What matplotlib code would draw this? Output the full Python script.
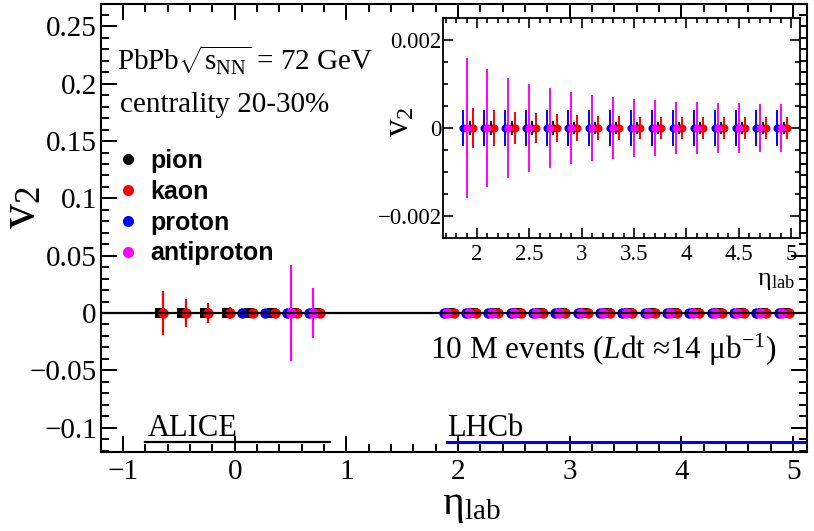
import matplotlib
matplotlib.use("Agg")
import matplotlib.pyplot as plt
from matplotlib.lines import Line2D
from matplotlib.ticker import MultipleLocator, FuncFormatter

plt.rcParams['font.family'] = ['Liberation Serif', 'DejaVu Serif']
plt.rcParams['mathtext.fontset'] = 'custom'
plt.rcParams['mathtext.rm'] = 'Liberation Serif'
plt.rcParams['mathtext.it'] = 'Liberation Serif:italic'
plt.rcParams['mathtext.bf'] = 'Liberation Serif:bold'
plt.rcParams['axes.unicode_minus'] = True

# ---------------- data ----------------
species = ['pion', 'kaon', 'proton', 'antiproton']
species_colors = ['#000000', '#ff0000', '#0000ff', '#ff00ff']

# ALICE acceptance (mid-rapidity)
pion_alice_eta = [-0.7, -0.5, -0.3, -0.1, 0.1, 0.3, 0.5, 0.7]
pion_alice_v2 = [0, 0, 0, 0, 0, 0, 0, 0]
pion_alice_err = [0.002, 0.002, 0.002, 0.002, 0.002, 0.002, 0.002, 0.002]

kaon_alice_eta = [-0.7, -0.5, -0.3, -0.1, 0.1, 0.3, 0.5, 0.7]
kaon_alice_v2 = [0, 0, 0, 0, 0, 0, 0, 0]
kaon_alice_err = [0.019, 0.012, 0.0087, 0.005, 0.003, 0.003, 0.003, 0.003]

proton_alice_eta = [0.1, 0.3, 0.5, 0.7]
proton_alice_v2 = [0, 0, 0, 0]
proton_alice_err = [0.003, 0.003, 0.003, 0.003]

antiproton_alice_eta = [0.5, 0.7]
antiproton_alice_v2 = [0, 0]
antiproton_alice_err = [0.042, 0.022]

# LHCb acceptance (forward)
lhcb_eta = [1.9, 2.1, 2.3, 2.5, 2.7, 2.9, 3.1, 3.3, 3.5, 3.7, 3.9, 4.1, 4.3, 4.5, 4.7, 4.9]
pion_lhcb_v2 = [0, 0, 0, 0, 0, 0, 0, 0, 0, 0, 0, 0, 0, 0, 0, 0]
pion_lhcb_err = [0.00016, 0.00016, 0.00015, 0.00015, 0.00015, 0.00014, 0.00014, 0.00014,
                 0.00014, 0.00013, 0.00013, 0.00013, 0.00013, 0.00013, 0.00013, 0.00013]
kaon_lhcb_v2 = [0, 0, 0, 0, 0, 0, 0, 0, 0, 0, 0, 0, 0, 0, 0, 0]
kaon_lhcb_err = [0.00045, 0.00040, 0.00036, 0.00033, 0.00031, 0.00029, 0.00028, 0.00027,
                 0.00026, 0.00026, 0.00025, 0.00025, 0.00025, 0.00025, 0.00025, 0.00025]
proton_lhcb_v2 = [0, 0, 0, 0, 0, 0, 0, 0, 0, 0, 0, 0, 0, 0, 0, 0]
proton_lhcb_err = [0.0004, 0.0004, 0.0004, 0.0004, 0.0004, 0.0004, 0.0004, 0.0004,
                   0.0004, 0.0004, 0.0004, 0.0004, 0.0004, 0.0004, 0.0004, 0.0004]
antiproton_lhcb_v2 = [0, 0, 0, 0, 0, 0, 0, 0, 0, 0, 0, 0, 0, 0, 0, 0]
antiproton_lhcb_err = [0.0016, 0.00134, 0.00113, 0.0010, 0.0009, 0.00082, 0.00076, 0.0007,
                       0.00066, 0.00063, 0.0006, 0.00059, 0.00057, 0.00056, 0.00055, 0.00055]

# detector acceptance bands
alice_range = [-0.8, 0.85]
lhcb_range = [1.9, 5.1]

# --------------- styling ---------------
# small horizontal displacement of species so points do not sit on top of each other
species_shift = {'pion': 0.03, 'kaon': 0.06, 'proton': -0.03, 'antiproton': 0.0}
draw_order = ['pion', 'proton', 'kaon', 'antiproton']
color_of = dict(zip(species, species_colors))

alice = {
    'pion': (pion_alice_eta, pion_alice_v2, pion_alice_err),
    'kaon': (kaon_alice_eta, kaon_alice_v2, kaon_alice_err),
    'proton': (proton_alice_eta, proton_alice_v2, proton_alice_err),
    'antiproton': (antiproton_alice_eta, antiproton_alice_v2, antiproton_alice_err),
}
lhcb = {
    'pion': (lhcb_eta, pion_lhcb_v2, pion_lhcb_err),
    'kaon': (lhcb_eta, kaon_lhcb_v2, kaon_lhcb_err),
    'proton': (lhcb_eta, proton_lhcb_v2, proton_lhcb_err),
    'antiproton': (lhcb_eta, antiproton_lhcb_v2, antiproton_lhcb_err),
}

W, H = 814, 531
fig = plt.figure(figsize=(W / 100, H / 100), dpi=100)

def px_axes(l, t, r, b):
    return [l / W, 1 - b / H, (r - l) / W, (b - t) / H]

ax = fig.add_axes(px_axes(101, 4, 807, 452))
axin = fig.add_axes(px_axes(443, 18, 800, 238))

def fmt(v, pos):
    s = ('%g' % v)
    if s in ('-0', '0.0', '-0.0'):
        s = '0'
    return s.replace('-', '\u2212')

# ---------------- main panel ----------------
for i, sp in enumerate(draw_order):
    c = color_of[sp]
    for j, dset in enumerate((alice, lhcb)):
        xs, ys, es = dset[sp]
        xx = [x + species_shift[sp] for x in xs]
        mk = 's' if (sp == 'pion') else 'o'
        ax.errorbar(xx, ys, yerr=es, fmt=mk, color=c, ms=7.5 if mk == 'o' else 7,
                    elinewidth=1.6, capsize=0, mew=0, zorder=3 + i)

ax.axhline(0, color='black', lw=1.6, zorder=10)
ax.plot(alice_range, [-0.1125, -0.1125], color='black', lw=1.6, zorder=2)
ax.plot(lhcb_range, [-0.1125, -0.1125], color='#0000ff', lw=2.2, zorder=2)
ax.text(alice_range[0] + 0.02, -0.1073, 'ALICE', fontsize=22, ha='left', va='baseline')
ax.text(lhcb_range[0], -0.1073, 'LHCb', fontsize=22, ha='left', va='baseline')

ax.set_xlim(-1.197, 5.125)
ax.set_ylim(-0.1213, 0.2696)
ax.xaxis.set_major_locator(MultipleLocator(1))
ax.xaxis.set_minor_locator(MultipleLocator(0.2))
ax.yaxis.set_major_locator(MultipleLocator(0.05))
ax.yaxis.set_minor_locator(MultipleLocator(0.01))
ax.xaxis.set_major_formatter(FuncFormatter(fmt))
ax.yaxis.set_major_formatter(FuncFormatter(fmt))
ax.tick_params(which='both', direction='in', top=True, right=True, width=1.4)
ax.tick_params(which='major', length=11.5, labelsize=21)
ax.tick_params(which='minor', length=5.8)
ax.tick_params(axis='x', which='major', pad=5)
ax.tick_params(axis='y', which='major', pad=3)
for s in ax.spines.values():
    s.set_linewidth(1.5)

fig.text(471 / W, 1 - 506 / H, '\u03b7$_{\\mathrm{lab}}$', fontsize=30, ha='center', va='center')
fig.text(22 / W, 1 - 208 / H, 'v$_2$', fontsize=36, rotation=90, ha='center', va='center')

ax.text(0.0227, 0.875, 'PbPb$\\sqrt{\\mathrm{s}_{\\mathrm{NN}}}$ = 72 GeV', transform=ax.transAxes,
        fontsize=21, ha='left', va='center')
ax.text(0.027, 0.775, 'centrality 20-30%', transform=ax.transAxes,
        fontsize=21, ha='left', va='center')
ax.text(0.466, 0.228, '10 M events ($L$dt \u224814 \u03bcb$^{\\mathrm{-1}}$)', transform=ax.transAxes,
        fontsize=22.5, ha='left', va='center')

handles = [Line2D([], [], marker='o', ls='', color=color_of[sp], ms=8, mew=0) for sp in species]
leg = ax.legend(handles, species, loc='upper left', bbox_to_anchor=(0.024, 0.676),
                frameon=False, handlelength=0.8, handletextpad=0.48, labelspacing=0.27,
                borderaxespad=0, borderpad=0,
                prop={'family': 'Liberation Sans', 'weight': 'bold', 'size': 18})

# ---------------- inset ----------------
for i, sp in enumerate(draw_order):
    c = color_of[sp]
    xs, ys, es = lhcb[sp]
    xx = [x + species_shift[sp] for x in xs]
    axin.errorbar(xx, ys, yerr=es, fmt='o', color=c, ms=5.8, elinewidth=1.4,
                  capsize=0, mew=0, zorder=3 + i)

axin.set_xlim(1.675, 5.086)
axin.set_ylim(-0.0025, 0.0025)
axin.xaxis.set_major_locator(MultipleLocator(0.5))
axin.xaxis.set_minor_locator(MultipleLocator(0.1))
axin.yaxis.set_major_locator(MultipleLocator(0.002))
axin.yaxis.set_minor_locator(MultipleLocator(0.0005))
axin.xaxis.set_major_formatter(FuncFormatter(fmt))
axin.yaxis.set_major_formatter(FuncFormatter(fmt))
axin.tick_params(which='both', direction='in', top=True, right=True, width=1.2)
axin.tick_params(which='major', length=7, labelsize=16.5)
axin.tick_params(which='minor', length=3.5)
axin.tick_params(axis='x', which='major', pad=4)
axin.tick_params(axis='y', which='major', pad=1)
for s in axin.spines.values():
    s.set_linewidth(1.3)
axin.set_facecolor('white')
axin.text(0.985, -0.195, '\u03b7$_{\\mathrm{lab}}$', transform=axin.transAxes,
          fontsize=19, ha='right', va='center')
fig.text(400 / W, 1 - 122 / H, 'v$_2$', fontsize=25, rotation=90, ha='center', va='center')

fig.savefig('out.png', dpi=100)
